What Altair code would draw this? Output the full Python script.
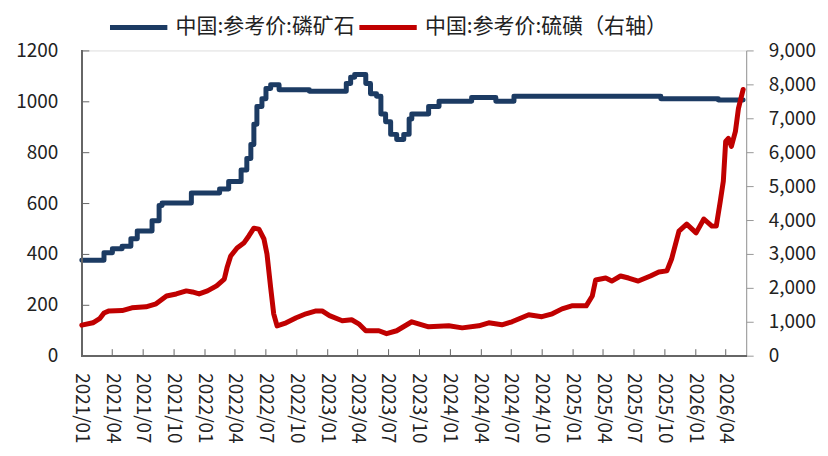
import altair as alt
import pandas as pd

FONT = "Noto Sans CJK SC"

name_phos = "中国:参考价:磷矿石"
name_sulf = "中国:参考价:硫磺（右轴）"

# 磷矿石 (left axis), change points of the weekly series
phos_dates = [
    "2021-01-01", "2021-03-08", "2021-04-02", "2021-05-01", "2021-05-27", "2021-06-15",
    "2021-07-29", "2021-08-19", "2021-08-28", "2021-11-23", "2022-02-15", "2022-03-14",
    "2022-04-20", "2022-05-07", "2022-05-19", "2022-05-28", "2022-06-06", "2022-06-21",
    "2022-07-03", "2022-07-17", "2022-08-11", "2022-11-09", "2023-02-27", "2023-03-12",
    "2023-03-24", "2023-04-26", "2023-05-10", "2023-05-28", "2023-06-10", "2023-06-24",
    "2023-07-09", "2023-07-27", "2023-08-17", "2023-09-02", "2023-09-10", "2023-10-30",
    "2023-11-30", "2024-03-06", "2024-05-17", "2024-07-10", "2025-09-20", "2026-03-10",
    "2026-05-23",
]
phos_values = [
    375, 405, 420, 430, 460, 490,
    530, 590, 600, 640, 655, 685,
    730, 775, 830, 910, 980, 1010,
    1050, 1065, 1045, 1040, 1070, 1095,
    1105, 1070, 1030, 1020, 950, 920,
    870, 850, 870, 930, 950, 980,
    1000, 1015, 1000, 1020, 1010, 1005,
    1005,
]

# 硫磺 (right axis)
sulf_dates = [
    "2021-01-01", "2021-02-03", "2021-02-23", "2021-03-08", "2021-03-23", "2021-05-01",
    "2021-05-30", "2021-07-11", "2021-08-10", "2021-09-10", "2021-10-09", "2021-11-08",
    "2021-11-26", "2021-12-16", "2022-01-10", "2022-02-06", "2022-03-01", "2022-03-09",
    "2022-03-20", "2022-04-08", "2022-04-28", "2022-05-13", "2022-05-28", "2022-06-12",
    "2022-06-27", "2022-07-06", "2022-07-17", "2022-07-26", "2022-08-05", "2022-09-01",
    "2022-10-01", "2022-10-30", "2022-11-29", "2022-12-17", "2023-01-08", "2023-02-15",
    "2023-03-15", "2023-04-05", "2023-04-26", "2023-06-04", "2023-06-27", "2023-07-27",
    "2023-09-10", "2023-10-30", "2023-12-29", "2024-02-07", "2024-03-27", "2024-04-26",
    "2024-06-04", "2024-07-04", "2024-08-23", "2024-10-01", "2024-11-01", "2024-11-30",
    "2024-12-29", "2025-02-10", "2025-02-28", "2025-03-10", "2025-04-09", "2025-04-27",
    "2025-05-23", "2025-06-16", "2025-07-15", "2025-08-20", "2025-09-14", "2025-10-08",
    "2025-10-22", "2025-11-13", "2025-12-06", "2026-01-03", "2026-01-26", "2026-02-19",
    "2026-03-04", "2026-03-16", "2026-03-25", "2026-04-01", "2026-04-09", "2026-04-18",
    "2026-04-30", "2026-05-09", "2026-05-23",
]
sulf_values = [
    900, 970, 1090, 1260, 1320, 1330,
    1410, 1440, 1530, 1760, 1820, 1910,
    1880, 1820, 1910, 2060, 2260, 2590,
    2940, 3175, 3320, 3530, 3760, 3730,
    3440, 3000, 2000, 1235, 880, 970,
    1120, 1235, 1320, 1320, 1180, 1030,
    1060, 940, 735, 735, 650, 735,
    1000, 850, 880, 820, 880, 970,
    910, 1000, 1205, 1150, 1235, 1380,
    1470, 1470, 1760, 2230, 2290, 2200,
    2350, 2290, 2200, 2350, 2470, 2500,
    2850, 3675, 3880, 3620, 4030, 3820,
    3820, 4560, 5145, 6320, 6410, 6170,
    6615, 7290, 7850,
]

left_ticks = [0, 200, 400, 600, 800, 1000, 1200]
right_ticks = [0, 1000, 2000, 3000, 4000, 5000, 6000, 7000, 8000, 9000]

x_start = alt.DateTime(year=2021, month=1, date=1)
x_end = alt.DateTime(year=2026, month=6, date=1)

phos_df = pd.DataFrame({"date": pd.to_datetime(phos_dates), "value": phos_values, "series": name_phos})
sulf_df = pd.DataFrame({"date": pd.to_datetime(sulf_dates), "value": sulf_values, "series": name_sulf})

color = alt.Color(
    "series:N",
    scale=alt.Scale(domain=[name_phos, name_sulf], range=["#1C3B63", "#C00000"]),
    legend=alt.Legend(
        title=None, orient="none", direction="horizontal", legendX=43, legendY=-37,
        symbolType="M-2.5,0H2.5", symbolSize=529, symbolStrokeWidth=5,
        labelFont=FONT, labelFontSize=21, labelColor="#222222", labelOffset=23,
        columnPadding=-6, labelLimit=400,
    ),
)

xscale = alt.Scale(domain=[x_start, x_end], nice=False)
x_axis = alt.Axis(
    tickCount={"interval": "month", "step": 3}, format="%Y/%m",
    labelAngle=90, labelAlign="left", labelBaseline="middle",
    offset=-7, tickSize=7, domain=False, grid=False, labelPadding=17, labelFont=FONT,
    labelFontSize=19, labelColor="#222222", tickColor="#666666", labelOverlap=False,
    labelFlush=False,
)
yl_scale = alt.Scale(domain=[0, 1200], nice=False)

blue = alt.Chart(phos_df).mark_line(
    strokeWidth=5, interpolate="step-after", strokeJoin="round", strokeCap="round"
).encode(
    x=alt.X("date:T", scale=xscale, axis=x_axis, title=None),
    y=alt.Y("value:Q", scale=yl_scale, title=None, axis=alt.Axis(
        values=left_ticks, format="d", offset=-7, tickSize=7, domain=False, grid=False,
        labelPadding=24, labelFont=FONT, labelFontSize=19, labelColor="#222222",
        tickColor="#666666")),
    color=color,
)

yaxis_line = alt.Chart(phos_df).mark_rule(color="#666666", strokeWidth=1.5).encode(
    x=alt.datum(x_start, type="temporal"),
    y=alt.datum(0), y2=alt.datum(1200),
)
xaxis_line = alt.Chart(phos_df).mark_rule(color="#666666", strokeWidth=1.5).encode(
    y=alt.datum(0),
    x=alt.datum(x_start, type="temporal"), x2=alt.datum(x_end),
)

left_layer = alt.layer(blue, yaxis_line, xaxis_line)

red = alt.Chart(sulf_df).mark_line(
    strokeWidth=5, strokeJoin="round", strokeCap="round"
).encode(
    x=alt.X("date:T", scale=xscale, axis=x_axis, title=None),
    y=alt.Y("value:Q", scale=alt.Scale(domain=[0, 9000], nice=False), title=None,
            axis=alt.Axis(orient="right", values=right_ticks, format=",d", tickSize=7,
                          domainColor="#999999", tickColor="#999999", grid=False,
                          labelPadding=15, labelFont=FONT, labelFontSize=19,
                          labelColor="#222222")),
    color=color,
)

chart = alt.layer(left_layer, red).resolve_scale(y="independent").properties(
    width=666, height=306,
    padding={"left": 74, "top": 42, "right": 74, "bottom": 90},
    autosize=alt.AutoSizeParams(type="none"),
).configure_view(stroke=None).configure(background="white")

chart.save("out.html", embed_options={"renderer": "svg", "actions": False})
